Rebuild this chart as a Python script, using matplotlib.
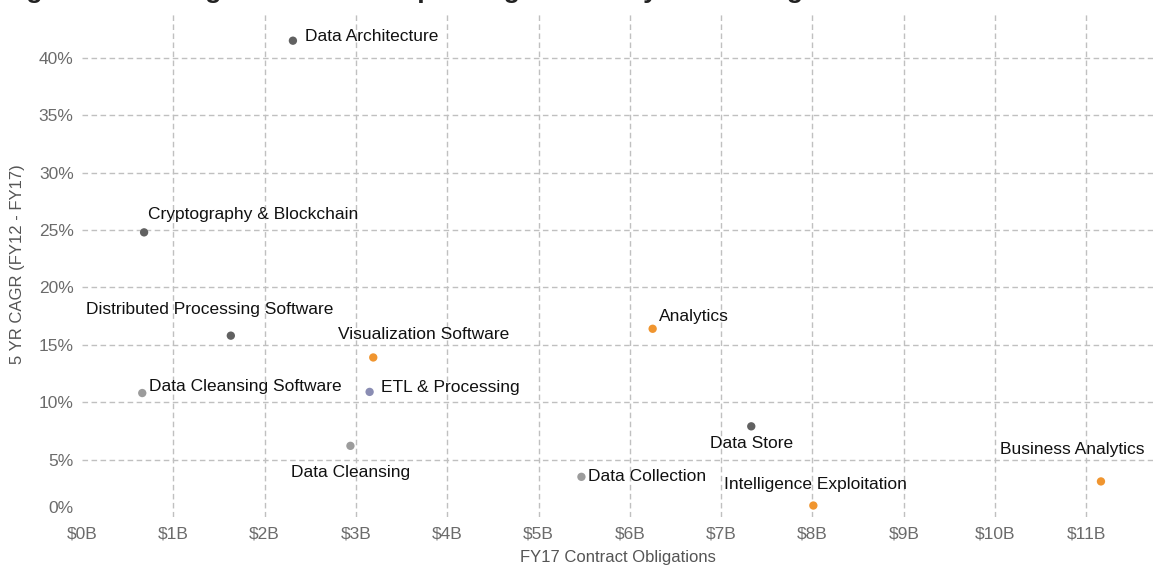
import numpy as np
import matplotlib.pyplot as plt
from matplotlib.ticker import FuncFormatter, MultipleLocator
import matplotlib.transforms as mtransforms

plt.rcParams['font.family'] = ['Liberation Sans', 'DejaVu Sans']

# sub-segment data: FY17 obligations ($B) and 5 yr CAGR (%)
segments = ['Data Architecture', 'Cryptography & Blockchain', 'Distributed Processing Software',
            'Visualization Software', 'Data Cleansing Software', 'ETL & Processing',
            'Data Cleansing', 'Analytics', 'Data Collection', 'Data Store',
            'Intelligence Exploitation', 'Business Analytics']
obligations = [2.31, 0.68, 1.63, 3.19, 0.66, 3.15, 2.94, 6.25, 5.47, 7.33, 8.01, 11.16]
cagr = [41.5, 24.8, 15.8, 13.9, 10.8, 10.9, 6.2, 16.4, 3.5, 7.9, 1.0, 3.1]
group = ['core', 'core', 'core', 'viz', 'clean', 'etl', 'clean', 'viz', 'clean', 'core', 'viz', 'viz']

colors = {'core': '#616161', 'clean': '#9c9c9c', 'viz': '#f0952f', 'etl': '#8a8db3'}

# label placement: (dx, dy) in pixels from the dot, horizontal alignment
label_pos = {
    'Data Architecture': (12, 4, 'left'),
    'Cryptography & Blockchain': (4, 18, 'left'),
    'Distributed Processing Software': (-21, 26, 'center'),
    'Visualization Software': (-35, 23, 'left'),
    'Data Cleansing Software': (7, 7, 'left'),
    'ETL & Processing': (11, 4, 'left'),
    'Data Cleansing': (0, -27, 'center'),
    'Analytics': (6, 12, 'left'),
    'Data Collection': (7, 0, 'left'),
    'Data Store': (0, -17, 'center'),
    'Intelligence Exploitation': (2, 21, 'center'),
    'Business Analytics': (-29, 32, 'center'),
}

fig = plt.figure(figsize=(11.53, 5.68), dpi=100)
ax = fig.add_axes([82 / 1153, 51 / 568, 1 - 82 / 1153, (517 - 12) / 568])

ax.scatter(obligations, cagr, s=36, c=[colors[g] for g in group], zorder=3, linewidths=0)

px = 72 / fig.dpi
for name, x, y in zip(segments, obligations, cagr):
    dx, dy, ha = label_pos[name]
    ax.annotate(name, (x, y), xytext=(dx * px, dy * px), textcoords='offset points',
                ha=ha, va='center', fontsize=12.5, color='#111111', zorder=4)

ax.set_xlim(0, 11.73)
ax.set_ylim(0, 44)
ax.xaxis.set_major_locator(MultipleLocator(1))
ax.yaxis.set_major_locator(MultipleLocator(5))
ax.xaxis.set_major_formatter(FuncFormatter(lambda v, p: f'${v:.0f}B'))
ax.yaxis.set_major_formatter(FuncFormatter(lambda v, p: f'{v:.0f}%'))

ax.grid(True, color='#c0c0c0', linestyle=(0, (4, 2.5)), linewidth=1)
ax.set_axisbelow(True)
for s in ax.spines.values():
    s.set_visible(False)
ax.tick_params(length=0, labelsize=12.5, labelcolor='#6b6b6b', pad=7)
ax.tick_params(axis='y', pad=6)

fig.canvas.draw()
# no grid lines along the zero edges
for t in ax.xaxis.get_major_ticks() + ax.yaxis.get_major_ticks():
    if abs(t.get_loc()) < 1e-9:
        t.gridline.set_visible(False)
# the 0% label sits a little above the bottom edge
for lab in ax.get_yticklabels():
    if lab.get_text() == '0%':
        lab.set_transform(lab.get_transform() + mtransforms.ScaledTranslation(0, 10 / 100, fig.dpi_scale_trans))

ax.set_xlabel('FY17 Contract Obligations', fontsize=12, color='#555555', labelpad=6)
ax.set_ylabel('5 YR CAGR (FY12 - FY17)', fontsize=12, color='#555555', labelpad=10)

fig.text(0.0, 1.0 + 2 / 568, 'Big Data Sub-Segments: 5 Year Spending Growth by FY17 Obligations',
         fontsize=19, fontweight='bold', color='#222222', ha='left', va='baseline')

fig.savefig('out.png', dpi=100)
